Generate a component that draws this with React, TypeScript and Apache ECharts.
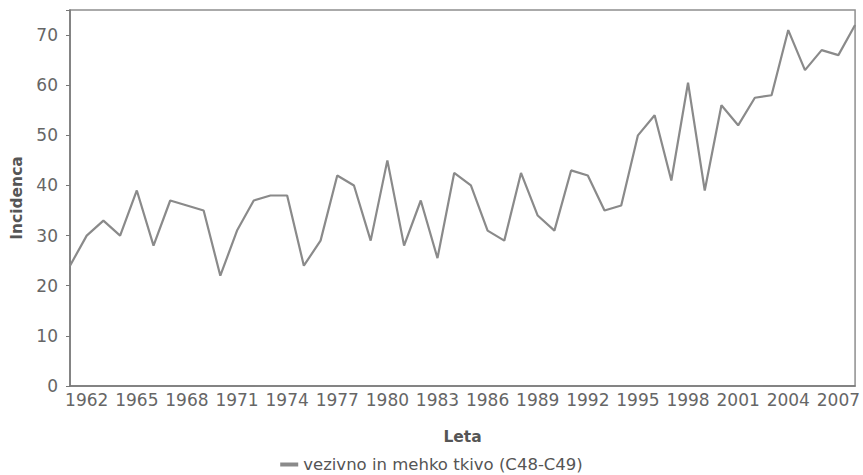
import React, { useEffect, useRef } from "react";
import * as echarts from "echarts";

const years: string[] = [
  "1961","1962","1963","1964","1965","1966","1967","1968","1969","1970",
  "1971","1972","1973","1974","1975","1976","1977","1978","1979","1980",
  "1981","1982","1983","1984","1985","1986","1987","1988","1989","1990",
  "1991","1992","1993","1994","1995","1996","1997","1998","1999","2000",
  "2001","2002","2003","2004","2005","2006","2007","2008",
];

const incidence: number[] = [
  24, 30, 33, 30, 39, 28, 37, 36, 35, 22,
  31, 37, 38, 38, 24, 29, 42, 40, 29, 45,
  28, 37, 25.5, 42.5, 40, 31, 29, 42.5, 34, 31,
  43, 42, 35, 36, 50, 54, 41, 60.5, 39, 56,
  52, 57.5, 58, 71, 63, 67, 66, 72,
];

const seriesName = "vezivno in mehko tkivo (C48-C49)";
const xName = "Leta";
const yName = "Incidenca";

export default function App() {
  const ref = useRef<HTMLDivElement>(null);
  useEffect(() => {
    if (!ref.current) return;
    const chart = echarts.init(ref.current, undefined, { renderer: "svg" });
    const font = "DejaVu Sans";
    chart.setOption({
      animation: false,
      backgroundColor: "#ffffff",
      textStyle: { fontFamily: font },
      grid: {
        left: 70,
        right: 7,
        top: 10,
        bottom: 89,
        show: true,
        borderColor: "#8f8f8f",
        borderWidth: 1.5,
      },
      legend: {
        top: 456,
        left: "center",
        padding: 0,
        icon: "rect",
        itemWidth: 18,
        itemHeight: 4,
        itemGap: 6,
        textStyle: { fontFamily: font, fontSize: 16.5, color: "#555" },
        data: [seriesName],
      },
      xAxis: {
        type: "category",
        data: years,
        boundaryGap: false,
        name: xName,
        nameLocation: "middle",
        nameGap: 43,
        nameTextStyle: { fontFamily: font, fontSize: 15.5, fontWeight: "bold", color: "#555" },
        axisLine: { show: true, lineStyle: { color: "#777", width: 1.5 } },
        axisTick: { show: false },
        axisLabel: {
          interval: (_i: number, v: string) => (Number(v) - 1962) % 3 === 0,
          fontFamily: font,
          fontSize: 17,
          color: "#666",
          margin: 5,
        },
        splitLine: { show: false },
      },
      yAxis: {
        type: "value",
        min: 0,
        max: 75,
        interval: 10,
        name: yName,
        nameLocation: "middle",
        nameGap: 44,
        nameTextStyle: { fontFamily: font, fontSize: 15.5, fontWeight: "bold", color: "#555" },
        axisLine: { show: true, lineStyle: { color: "#777", width: 1.5 } },
        axisTick: { show: true, length: 4, lineStyle: { color: "#777" } },
        axisLabel: {
          fontFamily: font,
          fontSize: 17,
          color: "#666",
          margin: 12,
          formatter: (v: number) => (v % 10 === 0 ? String(v) : ""),
        },
        splitLine: { show: false },
      },
      series: [
        {
          name: seriesName,
          type: "line",
          data: incidence,
          symbol: "none",
          lineStyle: { color: "#8a8a8a", width: 2.2 },
          itemStyle: { color: "#8a8a8a" },
        },
      ],
    });
    return () => chart.dispose();
  }, []);
  return (
    <div
      ref={ref}
      style={{ position: "fixed", left: 0, top: 0, width: 863, height: 475 }}
    />
  );
}
